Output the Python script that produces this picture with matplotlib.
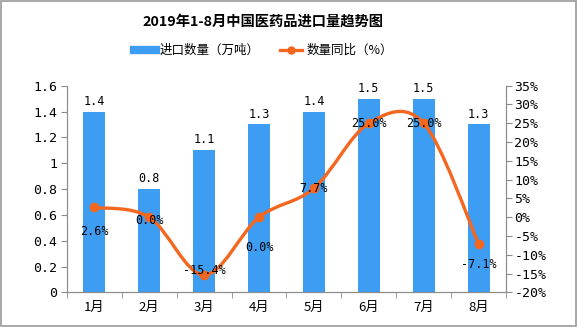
import numpy as np
import matplotlib
matplotlib.use("Agg")
import matplotlib.pyplot as plt
from matplotlib.path import Path
from matplotlib.patches import PathPatch, Rectangle
from matplotlib.lines import Line2D

plt.rcParams['font.family'] = ['Noto Sans CJK SC', 'DejaVu Sans']

months = ["1月", "2月", "3月", "4月", "5月", "6月", "7月", "8月"]
import_qty = [1.4, 0.8, 1.1, 1.3, 1.4, 1.5, 1.5, 1.3]
yoy_pct = [2.6, 0.0, -15.4, 0.0, 7.7, 25.0, 25.0, -7.1]
left_ticks = [0, 0.2, 0.4, 0.6, 0.8, 1, 1.2, 1.4, 1.6]
left_labels = ["0", "0.2", "0.4", "0.6", "0.8", "1", "1.2", "1.4", "1.6"]
right_ticks = list(range(-20, 40, 5))

BLUE = "#3d9df2"
ORANGE = "#f5661e"
GRAY = "#8c8c8c"

fig = plt.figure(figsize=(5.77, 3.27), dpi=100)
fig.patches.append(Rectangle((0.001, 0.002), 0.997, 0.996, transform=fig.transFigure,
                             fill=False, edgecolor="#9a9a9a", linewidth=1.2))
ax = fig.add_axes([0.116, 0.106, 0.761, 0.632])
ax2 = ax.twinx()

x = np.arange(len(months))
ax.bar(x, import_qty, width=0.4, color=BLUE, zorder=2)
for xi, v in zip(x, import_qty):
    ax.text(xi, v + 0.03, f"{v:.1f}", ha="center", va="bottom", fontsize=8.5,
            family="DejaVu Sans Mono")
ax.set_xlim(-0.5, len(months) - 0.5)
ax.set_ylim(0, 1.6)
ax.set_yticks(left_ticks)
ax.set_yticklabels(left_labels, fontsize=9.5, family="DejaVu Sans Mono")
ax.set_xticks(x)
ax.set_xticklabels(months, fontsize=9.5)
ax.set_xticks(np.arange(len(months) + 1) - 0.5, minor=True)
ax.tick_params(axis="x", which="major", length=0, pad=6)
ax.tick_params(axis="x", which="minor", length=4, color=GRAY)
ax.tick_params(axis="y", length=4, color=GRAY, pad=3)

# smooth line (Catmull-Rom as cubic Bezier segments)
px = np.array(x, dtype=float)
py = np.array(yoy_pct, dtype=float)
verts = [(px[0], py[0])]
codes = [Path.MOVETO]
for i in range(len(px) - 1):
    p0 = i - 1 if i > 0 else i
    p3 = i + 2 if i + 2 < len(px) else i + 1
    c1 = (px[i] + (px[i + 1] - px[p0]) / 6, py[i] + (py[i + 1] - py[p0]) / 6)
    c2 = (px[i + 1] - (px[p3] - px[i]) / 6, py[i + 1] - (py[p3] - py[i]) / 6)
    verts += [c1, c2, (px[i + 1], py[i + 1])]
    codes += [Path.CURVE4] * 3
ax2.add_patch(PathPatch(Path(verts, codes), fill=False, edgecolor=ORANGE,
                        linewidth=2.4, zorder=3))
ax2.plot(px, py, "o", color=ORANGE, markersize=6, zorder=4)
ax2.set_ylim(-20, 35)
ax2.set_yticks(right_ticks)
ax2.set_yticklabels([f"{t}%" for t in right_ticks], fontsize=9.5, family="DejaVu Sans Mono")
ax2.tick_params(axis="y", length=4, color=GRAY, pad=2)

# label offsets (in % units) to mimic the reference placement
offsets = [-6.5, -1, 1.2, -8, 0, 0, 0, -5.5]
for xi, v, off in zip(x, yoy_pct, offsets):
    ax2.text(xi, v + off, f"{v:.1f}%", ha="center", va="center", fontsize=8.5,
             family="DejaVu Sans Mono", zorder=5)

for a in (ax, ax2):
    a.spines["top"].set_visible(False)
    for s in ("left", "right", "bottom"):
        a.spines[s].set_color(GRAY)

fig.text(0.456, 0.935, "2019年1-8月中国医药品进口量趋势图", ha="center", va="center",
         fontsize=10.3, fontweight="bold")

handles = [Line2D([], [], color=BLUE, linewidth=6),
           Line2D([], [], color=ORANGE, linewidth=2.4, marker="o", markersize=5)]
fig.legend(handles, ["进口数量（万吨）", "数量同比（%）"], loc="center",
           bbox_to_anchor=(0.456, 0.845), ncol=2, frameon=False, fontsize=9,
           handlelength=1.8, columnspacing=1.6, handletextpad=0.3)

fig.savefig("out.png", dpi=100)
